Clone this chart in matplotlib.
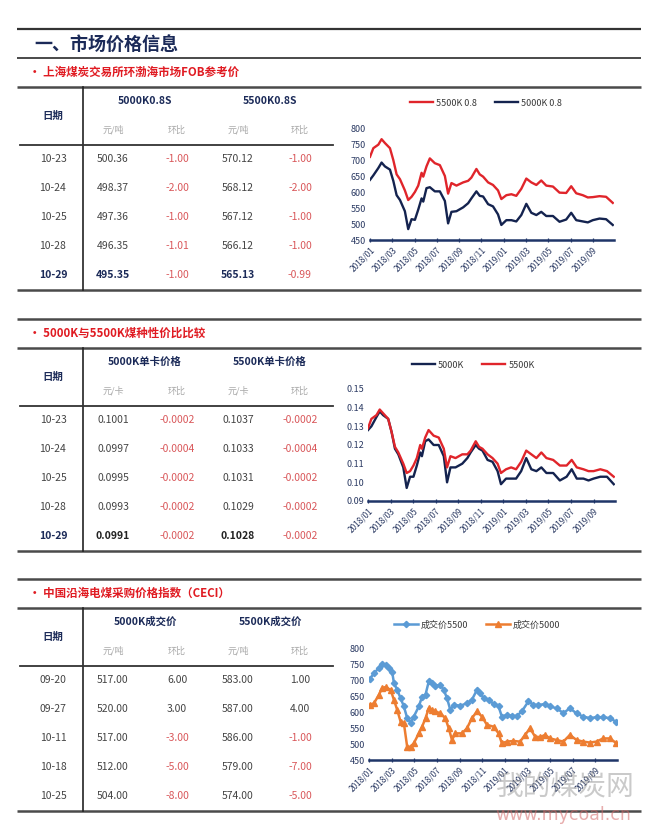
import numpy as np
import matplotlib
matplotlib.use('Agg')
import matplotlib.pyplot as plt

plt.rcParams['font.family'] = ['Noto Sans CJK SC', 'DejaVu Sans']

# ---------------- data ----------------
# tables
t1_dates = ['10-23', '10-24', '10-25', '10-28', '10-29']
t1_5000 = [500.36, 498.37, 497.36, 496.35, 495.35]
t1_5000_chg = [-1.00, -2.00, -1.00, -1.01, -1.00]
t1_5500 = [570.12, 568.12, 567.12, 566.12, 565.13]
t1_5500_chg = [-1.00, -2.00, -1.00, -1.00, -0.99]

t2_dates = ['10-23', '10-24', '10-25', '10-28', '10-29']
t2_5000 = [0.1001, 0.0997, 0.0995, 0.0993, 0.0991]
t2_5000_chg = [-0.0002, -0.0004, -0.0002, -0.0002, -0.0002]
t2_5500 = [0.1037, 0.1033, 0.1031, 0.1029, 0.1028]
t2_5500_chg = [-0.0002, -0.0004, -0.0002, -0.0002, -0.0002]

t3_dates = ['09-20', '09-27', '10-11', '10-18', '10-25']
t3_5000 = [517.00, 520.00, 517.00, 512.00, 504.00]
t3_5000_chg = [6.00, 3.00, -3.00, -5.00, -8.00]
t3_5500 = [583.00, 587.00, 586.00, 579.00, 574.00]
t3_5500_chg = [1.00, 4.00, -1.00, -7.00, -5.00]

# x axis of the charts: months since 2018/01
tick_pos = [0, 2, 4, 6, 8, 10, 12, 14, 16, 18, 20]
tick_labels = ['2018/01', '2018/03', '2018/05', '2018/07', '2018/09', '2018/11',
               '2019/01', '2019/03', '2019/05', '2019/07', '2019/09']

# FOB chart + ratio chart (same sample points)
fob_months = [0.0, 0.3, 0.75, 1.04, 1.34, 1.79, 2.09, 2.39, 2.69, 3.13,
              3.43, 3.73, 4.03, 4.33, 4.63, 4.78, 5.07, 5.37, 5.82, 6.27,
              6.72, 7.01, 7.31, 7.76, 8.36, 8.81, 9.10, 9.55, 9.85, 10.15,
              10.60, 11.04, 11.49, 11.79, 12.24, 12.69, 13.13, 13.58, 14.03, 14.48,
              14.93, 15.37, 15.82, 16.42, 17.01, 17.61, 18.06, 18.51, 19.10, 19.55,
              20.0, 20.6, 21.19, 21.79]
fob_5500 = [710, 737, 748, 765, 753, 737, 700, 655, 640, 605,
            575, 585, 600, 620, 660, 648, 680, 705, 690, 684,
            650, 595, 628, 620, 630, 635, 645, 672, 655, 648,
            630, 622, 605, 578, 590, 593, 588, 610, 642, 630,
            622, 636, 620, 617, 598, 597, 618, 596, 590, 583,
            584, 587, 585, 566]
fob_5000 = [638, 652, 675, 692, 680, 670, 635, 590, 575, 540,
            484, 515, 513, 545, 580, 570, 612, 615, 602, 602,
            572, 502, 538, 540, 552, 565, 580, 602, 588, 586,
            562, 555, 530, 497, 512, 512, 508, 528, 563, 535,
            528, 538, 525, 525, 507, 514, 535, 512, 508, 505,
            512, 517, 515, 497]
ratio_5500 = [0.129, 0.134, 0.136, 0.139, 0.137, 0.134, 0.127, 0.119, 0.116, 0.110,
              0.105, 0.106, 0.109, 0.113, 0.120, 0.118, 0.124, 0.128, 0.125, 0.124,
              0.118, 0.108, 0.114, 0.113, 0.115, 0.115, 0.117, 0.122, 0.119, 0.118,
              0.115, 0.113, 0.110, 0.105, 0.107, 0.108, 0.107, 0.111, 0.117, 0.115,
              0.113, 0.116, 0.113, 0.112, 0.109, 0.109, 0.112, 0.108, 0.107, 0.106,
              0.106, 0.107, 0.106, 0.103]
ratio_5000 = [0.128, 0.130, 0.135, 0.138, 0.136, 0.134, 0.127, 0.118, 0.115, 0.108,
              0.097, 0.103, 0.103, 0.109, 0.116, 0.114, 0.122, 0.123, 0.120, 0.120,
              0.114, 0.100, 0.108, 0.108, 0.110, 0.113, 0.116, 0.120, 0.118, 0.117,
              0.112, 0.111, 0.106, 0.099, 0.102, 0.102, 0.102, 0.106, 0.113, 0.107,
              0.106, 0.108, 0.105, 0.105, 0.101, 0.103, 0.107, 0.102, 0.102, 0.101,
              0.102, 0.103, 0.103, 0.099]

# CECI chart
ceci5500_months = [0.09, 0.44, 0.88, 1.17, 1.47, 1.76, 2.05, 2.2, 2.49, 2.79,
                   3.08, 3.37, 3.67, 3.96, 4.4, 4.69, 4.99, 5.28, 5.57, 5.87,
                   6.31, 6.6, 6.89, 7.18, 7.48, 8.06, 8.65, 9.09, 9.53, 9.82,
                   10.12, 10.56, 11.0, 11.44, 11.73, 12.17, 12.61, 13.05, 13.49, 14.08,
                   14.52, 14.96, 15.54, 15.98, 16.57, 17.16, 17.74, 18.33, 18.91, 19.5,
                   20.09, 20.67, 21.26, 21.85]
ceci5500 = [706, 724, 740, 754, 750, 740, 727, 693, 671, 645,
            619, 582, 568, 587, 619, 650, 656, 698, 693, 684,
            687, 671, 645, 608, 624, 621, 629, 640, 671, 662,
            645, 640, 627, 619, 587, 592, 589, 589, 603, 635,
            624, 624, 626, 619, 613, 598, 613, 597, 587, 582,
            585, 585, 582, 570]
ceci5000_months = [0.09, 0.44, 0.88, 1.17, 1.47, 1.91, 2.2, 2.49, 2.79, 3.08,
                   3.37, 3.67, 3.96, 4.4, 4.69, 4.99, 5.28, 5.57, 5.87, 6.31,
                   6.74, 7.04, 7.33, 7.62, 8.21, 8.65, 9.09, 9.53, 9.97, 10.41,
                   11.0, 11.44, 11.73, 12.17, 12.76, 13.34, 13.78, 14.22, 14.66, 15.1,
                   15.54, 15.98, 16.57, 17.16, 17.74, 18.33, 18.91, 19.5, 20.09, 20.67,
                   21.26, 21.85]
ceci5000 = [624, 629, 656, 677, 680, 671, 640, 608, 571, 566,
            492, 492, 503, 534, 555, 582, 613, 608, 603, 597,
            582, 550, 513, 534, 534, 550, 582, 603, 587, 561,
            555, 534, 503, 508, 510, 508, 529, 550, 524, 522,
            529, 518, 513, 508, 529, 513, 508, 505, 508, 518,
            518, 503]

# ---------------- styles ----------------
NAVY = '#1b2a58'
RED = '#e01b22'
LINE_RED = '#e0252b'
LINE_NAVY = '#14234f'
BLUE = '#5b9bd5'
ORANGE = '#ed7d31'
GREY_TXT = '#444444'
UNIT_TXT = '#a8a8a8'
NEG = '#d9575a'
RULE = '#4a4a4a'

W, H = 660, 832
fig = plt.figure(figsize=(W / 100, H / 100), dpi=100)
fig.patch.set_facecolor('white')
bg = fig.add_axes([0, 0, 1, 1])
bg.set_xlim(0, W)
bg.set_ylim(H, 0)
bg.axis('off')


def rect(x0, y0, x1, y1):
    return [x0 / W, 1 - y1 / H, (x1 - x0) / W, (y1 - y0) / H]


def hline(y, x0=17, x1=641, lw=1.6, color=RULE):
    bg.plot([x0, x1], [y, y], color=color, lw=lw, solid_capstyle='butt')


# page title
hline(29, lw=1.6, color='#333333')
bg.text(34, 44, '一、市场价格信息', fontsize=13, fontweight='bold', color=NAVY,
        va='center', ha='left')
hline(58, lw=1.4)


def section(top, title):
    # top: y of the rule above the section header
    if top is not None:
        hline(top, lw=1.8)
    y = top if top is not None else 58
    bg.text(29, y + 14, '• ' + title, fontsize=8.3, fontweight='bold', color=RED,
            va='center', ha='left')


def draw_table(L, head1, head2, unit, dates, v1, c1, v2, c2, fmt, last_color):
    hline(L, lw=1.8)
    bottom = L + 203
    hline(bottom, lw=1.8)
    bg.plot([83, 83], [L, bottom], color='#222222', lw=1.2)
    bg.plot([20, 333], [L + 58, L + 58], color='#333333', lw=1.3)
    bg.text(53, L + 29, '日期', fontsize=7.5, fontweight='bold', color=NAVY,
            ha='center', va='center')
    bg.text(145, L + 14, head1, fontsize=7.5, fontweight='bold', color=NAVY,
            ha='center', va='center')
    bg.text(270, L + 14, head2, fontsize=7.5, fontweight='bold', color=NAVY,
            ha='center', va='center')
    for cx, t in zip([113, 177, 238, 300], [unit, '环比', unit, '环比']):
        bg.text(cx, L + 43, t, fontsize=6.5, color=UNIT_TXT, ha='center', va='center')
    n = len(dates)
    for i in range(n):
        y = L + 72 + 29 * i
        last = (i == n - 1) and last_color is not None
        wt = 'bold' if last else 'normal'
        bg.text(53, y, dates[i], fontsize=7.5, fontweight=wt,
                color=NAVY if last else GREY_TXT, ha='center', va='center')
        for cx, val in zip([113, 238], [v1[i], v2[i]]):
            bg.text(cx, y, fmt.format(val), fontsize=7.5, fontweight=wt,
                    color=last_color if last else GREY_TXT, ha='center', va='center')
        for cx, val in zip([177, 300], [c1[i], c2[i]]):
            bg.text(cx, y, fmt.format(val), fontsize=7.5,
                    color=NEG if val < 0 else GREY_TXT, ha='center', va='center')


def draw_chart(box, ylim, yticks, yfmt, series, leg_xy):
    ax = fig.add_axes(rect(*box))
    ax.patch.set_alpha(0)
    handles = []
    for x, y, kw in series:
        ln, = ax.plot(x, y, **kw)
        handles.append(ln)
    ax.set_xlim(0, 21.9)
    ax.set_ylim(*ylim)
    ax.set_yticks(yticks)
    ax.set_yticklabels([yfmt.format(v) for v in yticks])
    ax.set_xticks(tick_pos)
    ax.set_xticklabels(tick_labels, rotation=45, ha='right', rotation_mode='anchor')
    for s in ['top', 'right', 'left']:
        ax.spines[s].set_visible(False)
    ax.spines['bottom'].set_color('#1f3568')
    ax.spines['bottom'].set_linewidth(1.8)
    ax.tick_params(axis='y', length=0, labelsize=6.5, labelcolor='#2b3a63', pad=3)
    ax.tick_params(axis='x', length=3, width=0.9, color='#1f3568', direction='inout',
                   labelsize=6, labelcolor='#2b3a63', pad=2)
    ax.legend(handles=handles, ncol=2, loc='center',
              bbox_to_anchor=(leg_xy[0] / W, 1 - leg_xy[1] / H),
              bbox_transform=fig.transFigure, frameon=False, fontsize=6.5,
              handlelength=2.6, handletextpad=0.3, columnspacing=2.0,
              labelcolor='#3a3a3a')
    return ax


# ---- section 1 ----
section(None, '上海煤炭交易所环渤海市场FOB参考价')
draw_table(87, '5000K0.8S', '5500K0.8S', '元/吨', t1_dates, t1_5000, t1_5000_chg,
           t1_5500, t1_5500_chg, '{:.2f}', NAVY)
draw_chart((370, 128, 614, 240), (450, 800), [450, 500, 550, 600, 650, 700, 750, 800],
           '{:d}',
           [(fob_months, fob_5500, dict(color=LINE_RED, lw=1.7, label='5500K 0.8')),
            (fob_months, fob_5000, dict(color=LINE_NAVY, lw=1.7, label='5000K 0.8'))],
           (486, 103))

# ---- section 2 ----
section(319, '5000K与5500K煤种性价比比较')
draw_table(348, '5000K单卡价格', '5500K单卡价格', '元/卡', t2_dates, t2_5000, t2_5000_chg,
           t2_5500, t2_5500_chg, '{:.4f}', '#222222')
draw_chart((368, 389, 615, 501), (0.09, 0.15), [0.09, 0.10, 0.11, 0.12, 0.13, 0.14, 0.15],
           '{:.2f}',
           [(fob_months, ratio_5000, dict(color=LINE_NAVY, lw=1.7, label='5000K')),
            (fob_months, ratio_5500, dict(color=LINE_RED, lw=1.7, label='5500K'))],
           (473, 365))

# ---- section 3 ----
section(579, '中国沿海电煤采购价格指数（CECI）')
draw_table(608, '5000K成交价', '5500K成交价', '元/吨', t3_dates, t3_5000, t3_5000_chg,
           t3_5500, t3_5500_chg, '{:.2f}', None)
draw_chart((369, 649, 617, 760), (450, 800), [450, 500, 550, 600, 650, 700, 750, 800],
           '{:d}',
           [(ceci5500_months, ceci5500, dict(color=BLUE, lw=1.8, marker='D', ms=3.2,
                                             label='成交价5500')),
            (ceci5000_months, ceci5000, dict(color=ORANGE, lw=1.8, marker='^', ms=3.8,
                                             label='成交价5000'))],
           (477, 625))

# watermark
fig.text(565 / W, 1 - 786 / H, '我的煤炭网', fontsize=20, color='#8a8a8a', alpha=0.45,
         ha='center', va='center', zorder=10)
fig.text(563 / W, 1 - 815 / H, 'www.mycoal.cn', fontsize=12.5, color='#d46a6a', alpha=0.55,
         ha='center', va='center', zorder=10, family='DejaVu Sans')

fig.savefig('out.png', dpi=100, facecolor='white')
